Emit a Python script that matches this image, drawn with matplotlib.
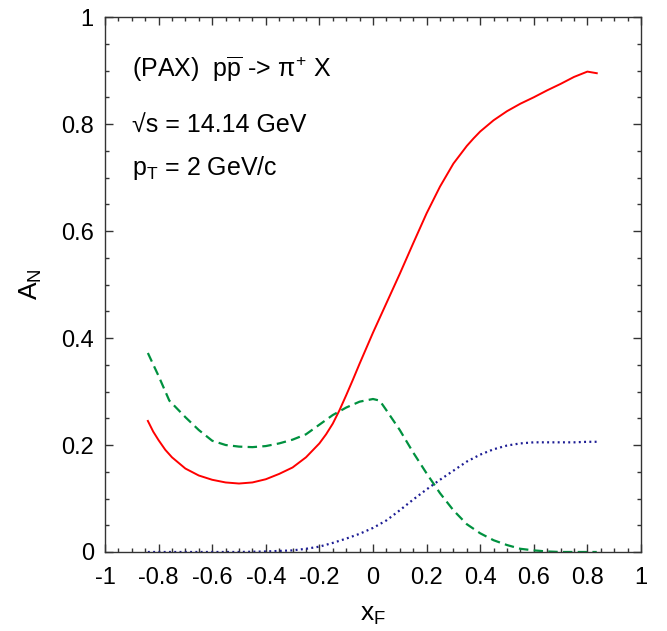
import numpy as np
import matplotlib
matplotlib.use("Agg")
import matplotlib.pyplot as plt
from matplotlib.ticker import MultipleLocator, FuncFormatter

plt.rcParams['font.family'] = ['Liberation Sans', 'DejaVu Sans']
plt.rcParams['mathtext.fontset'] = 'custom'
plt.rcParams['mathtext.rm'] = 'Liberation Sans'
plt.rcParams['mathtext.it'] = 'Liberation Sans'
plt.rcParams['mathtext.bf'] = 'Liberation Sans:bold'
plt.rcParams['axes.unicode_minus'] = False
plt.rcParams['lines.scale_dashes'] = False

# total asymmetry (solid red)
x_tot = [-0.84, -0.82, -0.80, -0.775, -0.75, -0.70, -0.65, -0.60, -0.55, -0.50, -0.45, -0.40,
         -0.35, -0.30, -0.25, -0.20, -0.175, -0.15, -0.125, -0.10, -0.075, -0.05,
         -0.025, 0.00, 0.05, 0.10, 0.15, 0.20, 0.25, 0.30, 0.35, 0.375, 0.40,
         0.45, 0.50, 0.55, 0.60, 0.65, 0.70, 0.75, 0.80, 0.835]
a_tot = [0.245, 0.225, 0.209, 0.191, 0.177, 0.156, 0.143, 0.135, 0.130, 0.128, 0.130, 0.136,
         0.146, 0.158, 0.177, 0.203, 0.220, 0.240, 0.265, 0.293, 0.322, 0.352,
         0.381, 0.410, 0.465, 0.520, 0.577, 0.633, 0.683, 0.726, 0.759, 0.773, 0.786,
         0.807, 0.824, 0.838, 0.850, 0.863, 0.875, 0.888, 0.898, 0.895]

# quark contribution (dashed green)
x_q = [-0.84, -0.80, -0.76, -0.70, -0.65, -0.60, -0.55, -0.50, -0.45, -0.40,
       -0.35, -0.30, -0.25, -0.20, -0.15, -0.10, -0.05, 0.00, 0.025, 0.05,
       0.10, 0.15, 0.20, 0.25, 0.30, 0.35, 0.40, 0.45, 0.50, 0.55,
       0.60, 0.65, 0.70, 0.835]
a_q = [0.372, 0.329, 0.283, 0.252, 0.228, 0.208, 0.200, 0.197, 0.196, 0.198,
       0.203, 0.210, 0.220, 0.238, 0.256, 0.270, 0.281, 0.286, 0.283, 0.265,
       0.228, 0.186, 0.147, 0.110, 0.078, 0.052, 0.035, 0.022, 0.013, 0.006,
       0.003, 0.001, 0.000, 0.000]

# gluon contribution (dotted blue)
x_g = [-0.84, -0.70, -0.60, -0.50, -0.40, -0.30, -0.25, -0.20, -0.15, -0.10,
       -0.05, 0.00, 0.05, 0.10, 0.15, 0.20, 0.25, 0.30, 0.35, 0.40,
       0.45, 0.50, 0.55, 0.60, 0.65, 0.70, 0.75, 0.80, 0.835]
a_g = [0.000, 0.000, 0.000, 0.000, 0.001, 0.003, 0.006, 0.010, 0.017, 0.025,
       0.034, 0.045, 0.059, 0.078, 0.098, 0.117, 0.135, 0.152, 0.169, 0.182,
       0.192, 0.199, 0.203, 0.205, 0.205, 0.205, 0.205, 0.206, 0.206]


def tick_fmt(v, pos):
    v = round(v, 6)
    return '%g' % (0.0 if v == 0 else v)


fig = plt.figure(figsize=(6.67, 6.31), dpi=100)
ax = fig.add_axes([0.1574, 0.1252, 0.8036, 0.8478])

ax.plot(x_tot, a_tot, color='#ff0000', lw=1.4, solid_joinstyle='round')
ax.plot(x_q, a_q, color='#00913f', lw=1.6, dashes=(6.8, 3.8), dash_capstyle='butt')
ax.plot(x_g, a_g, color='#1c1c94', lw=1.6, dashes=(1.4, 2.4), dash_capstyle='butt')

ax.set_xlim(-1, 1)
ax.set_ylim(0, 1)
ax.xaxis.set_major_locator(MultipleLocator(0.2))
ax.xaxis.set_minor_locator(MultipleLocator(0.05))
ax.yaxis.set_major_locator(MultipleLocator(0.2))
ax.yaxis.set_minor_locator(MultipleLocator(0.05))
ax.xaxis.set_major_formatter(FuncFormatter(tick_fmt))
ax.yaxis.set_major_formatter(FuncFormatter(tick_fmt))
ax.tick_params(which='both', direction='in', top=True, right=True,
               labelsize=17, width=1.0, color='#333333')
ax.tick_params(which='major', length=5.5)
ax.tick_params(axis='x', which='major', pad=11)
ax.tick_params(axis='y', which='major', pad=8)
ax.tick_params(which='minor', length=2.8)
for sp in ax.spines.values():
    sp.set_linewidth(1.0)
    sp.set_color('#333333')

ax.set_xlabel('x$_\\mathrm{F}$', fontsize=19, labelpad=10)
ax.set_ylabel('A$_\\mathrm{N}$', fontsize=19, labelpad=12)

ax.text(-0.9, 0.886, '(PAX)  p$\\overline{\\mathrm{p}}$ -> $\\pi^{+}$ X', fontsize=18)
ax.text(-0.9, 0.785, '\u221as = 14.14 GeV', fontsize=18)
ax.text(-0.9, 0.705, 'p$_\\mathrm{T}$ = 2 GeV/c', fontsize=18)

fig.savefig('out.png', dpi=100, facecolor='white')
